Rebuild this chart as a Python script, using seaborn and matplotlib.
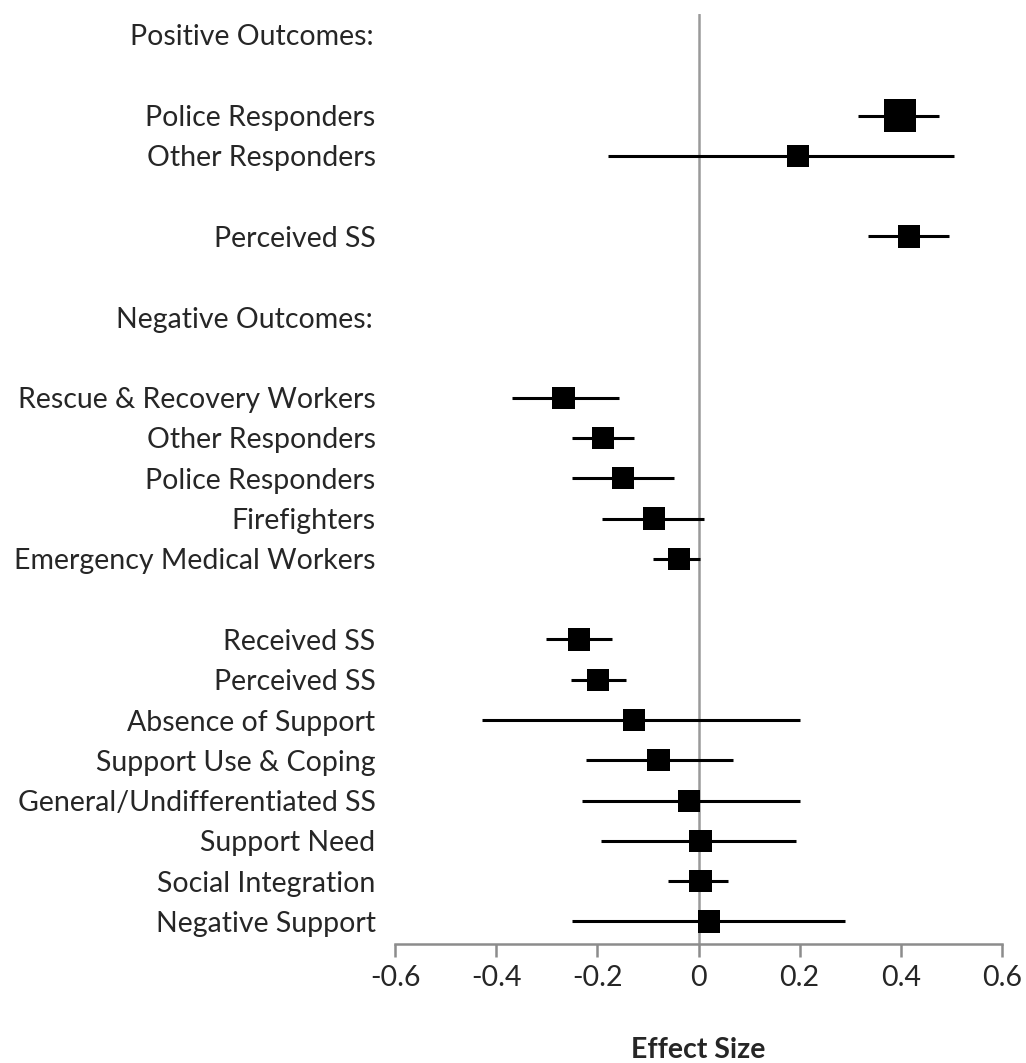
import matplotlib
matplotlib.use("Agg")
import matplotlib.pyplot as plt
import seaborn as sns
import pandas as pd

# Rows of the forest plot (top to bottom), row index = position on the y axis
rows = [2, 3, 5, 9, 10, 11, 12, 13, 15, 16, 17, 18, 19, 20, 21, 22]
labels = [
    "Police Responders", "Other Responders", "Perceived SS",
    "Rescue & Recovery Workers", "Other Responders", "Police Responders",
    "Firefighters", "Emergency Medical Workers",
    "Received SS", "Perceived SS", "Absence of Support", "Support Use & Coping",
    "General/Undifferentiated SS", "Support Need", "Social Integration",
    "Negative Support",
]
effects = [0.399, 0.196, 0.416, -0.267, -0.188, -0.149, -0.088, -0.039,
           -0.237, -0.198, -0.127, -0.079, -0.018, 0.004, 0.004, 0.021]
lower = [0.315, -0.179, 0.336, -0.369, -0.251, -0.251, -0.191, -0.090,
         -0.301, -0.252, -0.429, -0.222, -0.231, -0.193, -0.061, -0.250]
upper = [0.475, 0.505, 0.496, -0.158, -0.128, -0.048, 0.011, 0.002,
         -0.172, -0.143, 0.200, 0.069, 0.200, 0.192, 0.059, 0.290]
weight = ["large"] + ["normal"] * 15

header_rows = [0, 7]
headers = ["Positive Outcomes:", "Negative Outcomes:"]

ticks = [-0.6, -0.4, -0.2, 0, 0.2, 0.4, 0.6]
tick_labels = ["-0.6", "-0.4", "-0.2", "0", "0.2", "0.4", "0.6"]

df = pd.DataFrame({"row": rows, "label": labels, "effect": effects,
                   "lower": lower, "upper": upper, "weight": weight})

sns.set_theme(style="white")
plt.rcParams["font.family"] = ["Lato", "DejaVu Sans"]
FS = 20.5

fig = plt.figure(figsize=(10.26, 10.63), dpi=100)
ax = fig.add_axes([0.385, 0.1119, 0.5916, 0.8749])

# zero reference line
ax.axvline(0, color="#9a9a9a", lw=1.8, zorder=1)

# confidence intervals
ax.hlines(df["row"], df["lower"], df["upper"], color="black", lw=2.2, zorder=2)

# point estimates
sns.scatterplot(data=df, x="effect", y="row", size="weight",
                sizes={"large": 540, "normal": 255}, marker="s",
                color="black", linewidth=0, legend=False, zorder=3, ax=ax)

ax.set_xlim(-0.6, 0.6)
ax.set_ylim(22.56, -0.52)

# study labels and section headers share the y tick labels
ytick_pos = header_rows + list(df["row"])
ytick_txt = headers + list(df["label"])
ax.set_yticks(ytick_pos)
ax.set_yticklabels(ytick_txt, fontsize=FS)
ax.tick_params(axis="y", length=0, pad=14)
for lab in ax.get_yticklabels()[:len(headers)]:
    lab.set_x(-0.004)

ax.set_xticks(ticks)
ax.set_xticklabels(tick_labels, fontsize=FS)
ax.tick_params(axis="x", direction="out", length=9, width=1.8,
               color="#8c8c8c", pad=6, bottom=True)

for side in ["left", "top", "right"]:
    ax.spines[side].set_visible(False)
ax.spines["bottom"].set_color("#8c8c8c")
ax.spines["bottom"].set_linewidth(1.8)

ax.set_ylabel("")
ax.set_xlabel("Effect Size", fontsize=FS, fontweight="bold")
ax.xaxis.set_label_coords(0.5, -0.114)
ax.xaxis.label.set_va("center")

fig.savefig("out.png", dpi=100)
